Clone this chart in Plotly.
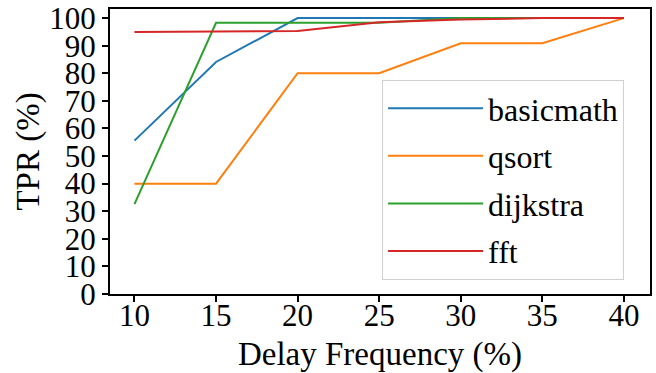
import plotly.graph_objects as go

x_vals = [10, 15, 20, 25, 30, 35, 40]
basicmath = [55.6, 84.1, 100, 100, 100, 100, 100]
qsort = [40, 40, 80, 80, 90.9, 90.9, 100]
dijkstra = [32.6, 98.3, 98.3, 98.3, 100, 100, 100]
fft = [95.0, 95.1, 95.3, 98.5, 99.5, 100, 100]

series = [("basicmath", basicmath, "#1f77b4"),
          ("qsort", qsort, "#ff7f0e"),
          ("dijkstra", dijkstra, "#2ca02c"),
          ("fft", fft, "#d62728")]

y_ticks = list(range(0, 101, 10))
x_ticks = [10, 15, 20, 25, 30, 35, 40]

FONT = "Liberation Serif"

fig = go.Figure()
for i, (name, ys, col) in enumerate(series):
    fig.add_trace(go.Scatter(x=x_vals, y=ys, mode="lines", name=name,
                             legendgroup=f"g{i}",
                             line=dict(color=col, width=2)))

axis_common = dict(showline=True, linecolor="black", linewidth=2, mirror=True,
                   ticks="outside", ticklen=6, tickwidth=2, tickcolor="black",
                   showgrid=False, zeroline=False, automargin=False,
                   tickfont=dict(family=FONT, size=31, color="black"))

fig.update_layout(
    width=656, height=373,
    margin=dict(l=110, r=6, t=9, b=79),
    paper_bgcolor="white", plot_bgcolor="white",
    font=dict(family=FONT, color="black", size=32),
    xaxis=dict(range=[8.5, 41.6], tickvals=x_ticks, ticklabelstandoff=-13,
               title=dict(text="Delay Frequency (%)", font=dict(family=FONT, size=33), standoff=12),
               **axis_common),
    yaxis=dict(range=[0, 103.3], tickvals=y_ticks,
               title=dict(text="TPR (%)", font=dict(family=FONT, size=33), standoff=0),
               **axis_common),
    legend=dict(x=0.952, xanchor="right", y=0.7513, yanchor="top",
                bgcolor="white", bordercolor="#d0d0d0", borderwidth=1,
                font=dict(family=FONT, size=32, color="black"),
                itemwidth=95, tracegroupgap=3),
)

fig.write_html("out.html", config={"displayModeBar": False},
               post_script="document.body.style.margin='0';")
